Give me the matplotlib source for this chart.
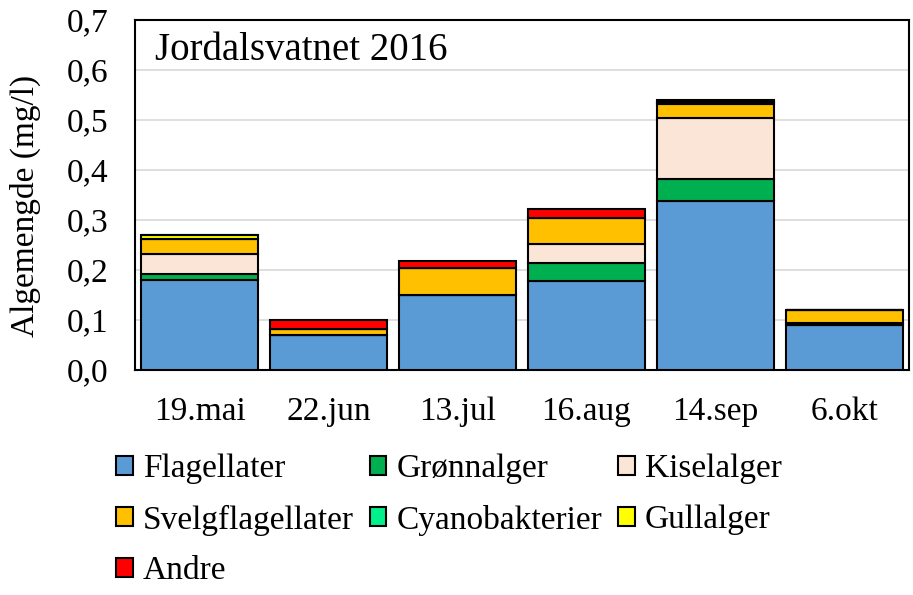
import numpy as np
import matplotlib
matplotlib.use("Agg")
import matplotlib.pyplot as plt

# sample dates
dates = ["19.mai", "22.jun", "13.jul", "16.aug", "14.sep", "6.okt"]

# algal biomass per group (mg/l)
flagellater = [0.181, 0.071, 0.150, 0.179, 0.338, 0.090]
gronnalger = [0.011, 0.000, 0.000, 0.036, 0.045, 0.000]
kiselalger = [0.041, 0.000, 0.000, 0.038, 0.121, 0.004]
svelgflagellater = [0.030, 0.012, 0.055, 0.052, 0.029, 0.026]
cyanobakterier = [0.000, 0.000, 0.000, 0.000, 0.000, 0.000]
gullalger = [0.008, 0.000, 0.000, 0.000, 0.004, 0.000]
andre = [0.000, 0.018, 0.014, 0.018, 0.003, 0.000]

series = [
    ("Flagellater", flagellater, "#5B9BD5"),
    ("Grønnalger", gronnalger, "#00B050"),
    ("Kiselalger", kiselalger, "#FBE5D6"),
    ("Svelgflagellater", svelgflagellater, "#FFC000"),
    ("Cyanobakterier", cyanobakterier, "#00F08C"),
    ("Gullalger", gullalger, "#FFFF00"),
    ("Andre", andre, "#FF0000"),
]

plt.rcParams["font.family"] = ["Liberation Serif", "DejaVu Serif"]
plt.rcParams["font.size"] = 24

fig = plt.figure(figsize=(9.13, 5.95), dpi=100)
ax = fig.add_axes([135 / 913, 1 - 370 / 595, 774 / 913, 350 / 595])

x = np.arange(len(dates))
bottom = np.zeros(len(dates))
handles = {}
for name, vals, color in series:
    vals = np.array(vals)
    b = ax.bar(x, vals, width=0.9, bottom=bottom, color=color,
               edgecolor="black", linewidth=1.5, label=name, zorder=3)
    handles[name] = b
    bottom += vals

ax.set_xlim(-0.5, len(dates) - 0.5)
ax.set_ylim(0, 0.7)
ax.set_yticks(np.arange(0, 0.71, 0.1))
ax.set_yticklabels([f"{v:.1f}".replace(".", ",") for v in np.arange(0, 0.71, 0.1)])
ax.set_xticks(x)
ax.set_xticklabels(dates)
ax.tick_params(axis="both", length=0)
ax.tick_params(axis="x", pad=19)
ax.tick_params(axis="y", pad=19)
ax.grid(axis="y", color="#D9D9D9", linewidth=1.2, zorder=0)
for sp in ax.spines.values():
    sp.set_color("black")
    sp.set_linewidth(1.5)

ax.set_ylabel("Algemengde (mg/l)")
ax.yaxis.set_label_coords(-0.122, 0.47)

ax.text(20 / 774, (370 - 60) / 350, "Jordalsvatnet 2016", transform=ax.transAxes,
        ha="left", va="baseline", fontsize=28)

order = ["Flagellater", "Svelgflagellater", "Andre", "Grønnalger",
         "Cyanobakterier", "Kiselalger", "Gullalger"]
fig.legend([handles[n] for n in order], order, ncol=3, frameon=False,
           loc="upper left", bbox_to_anchor=(116 / 913, 1 - 454 / 595),
           borderpad=0, handlelength=0.5, handleheight=0.5,
           handletextpad=0.3, columnspacing=0.48, labelspacing=0.6,
           borderaxespad=0)

fig.savefig("out.png", dpi=100)
